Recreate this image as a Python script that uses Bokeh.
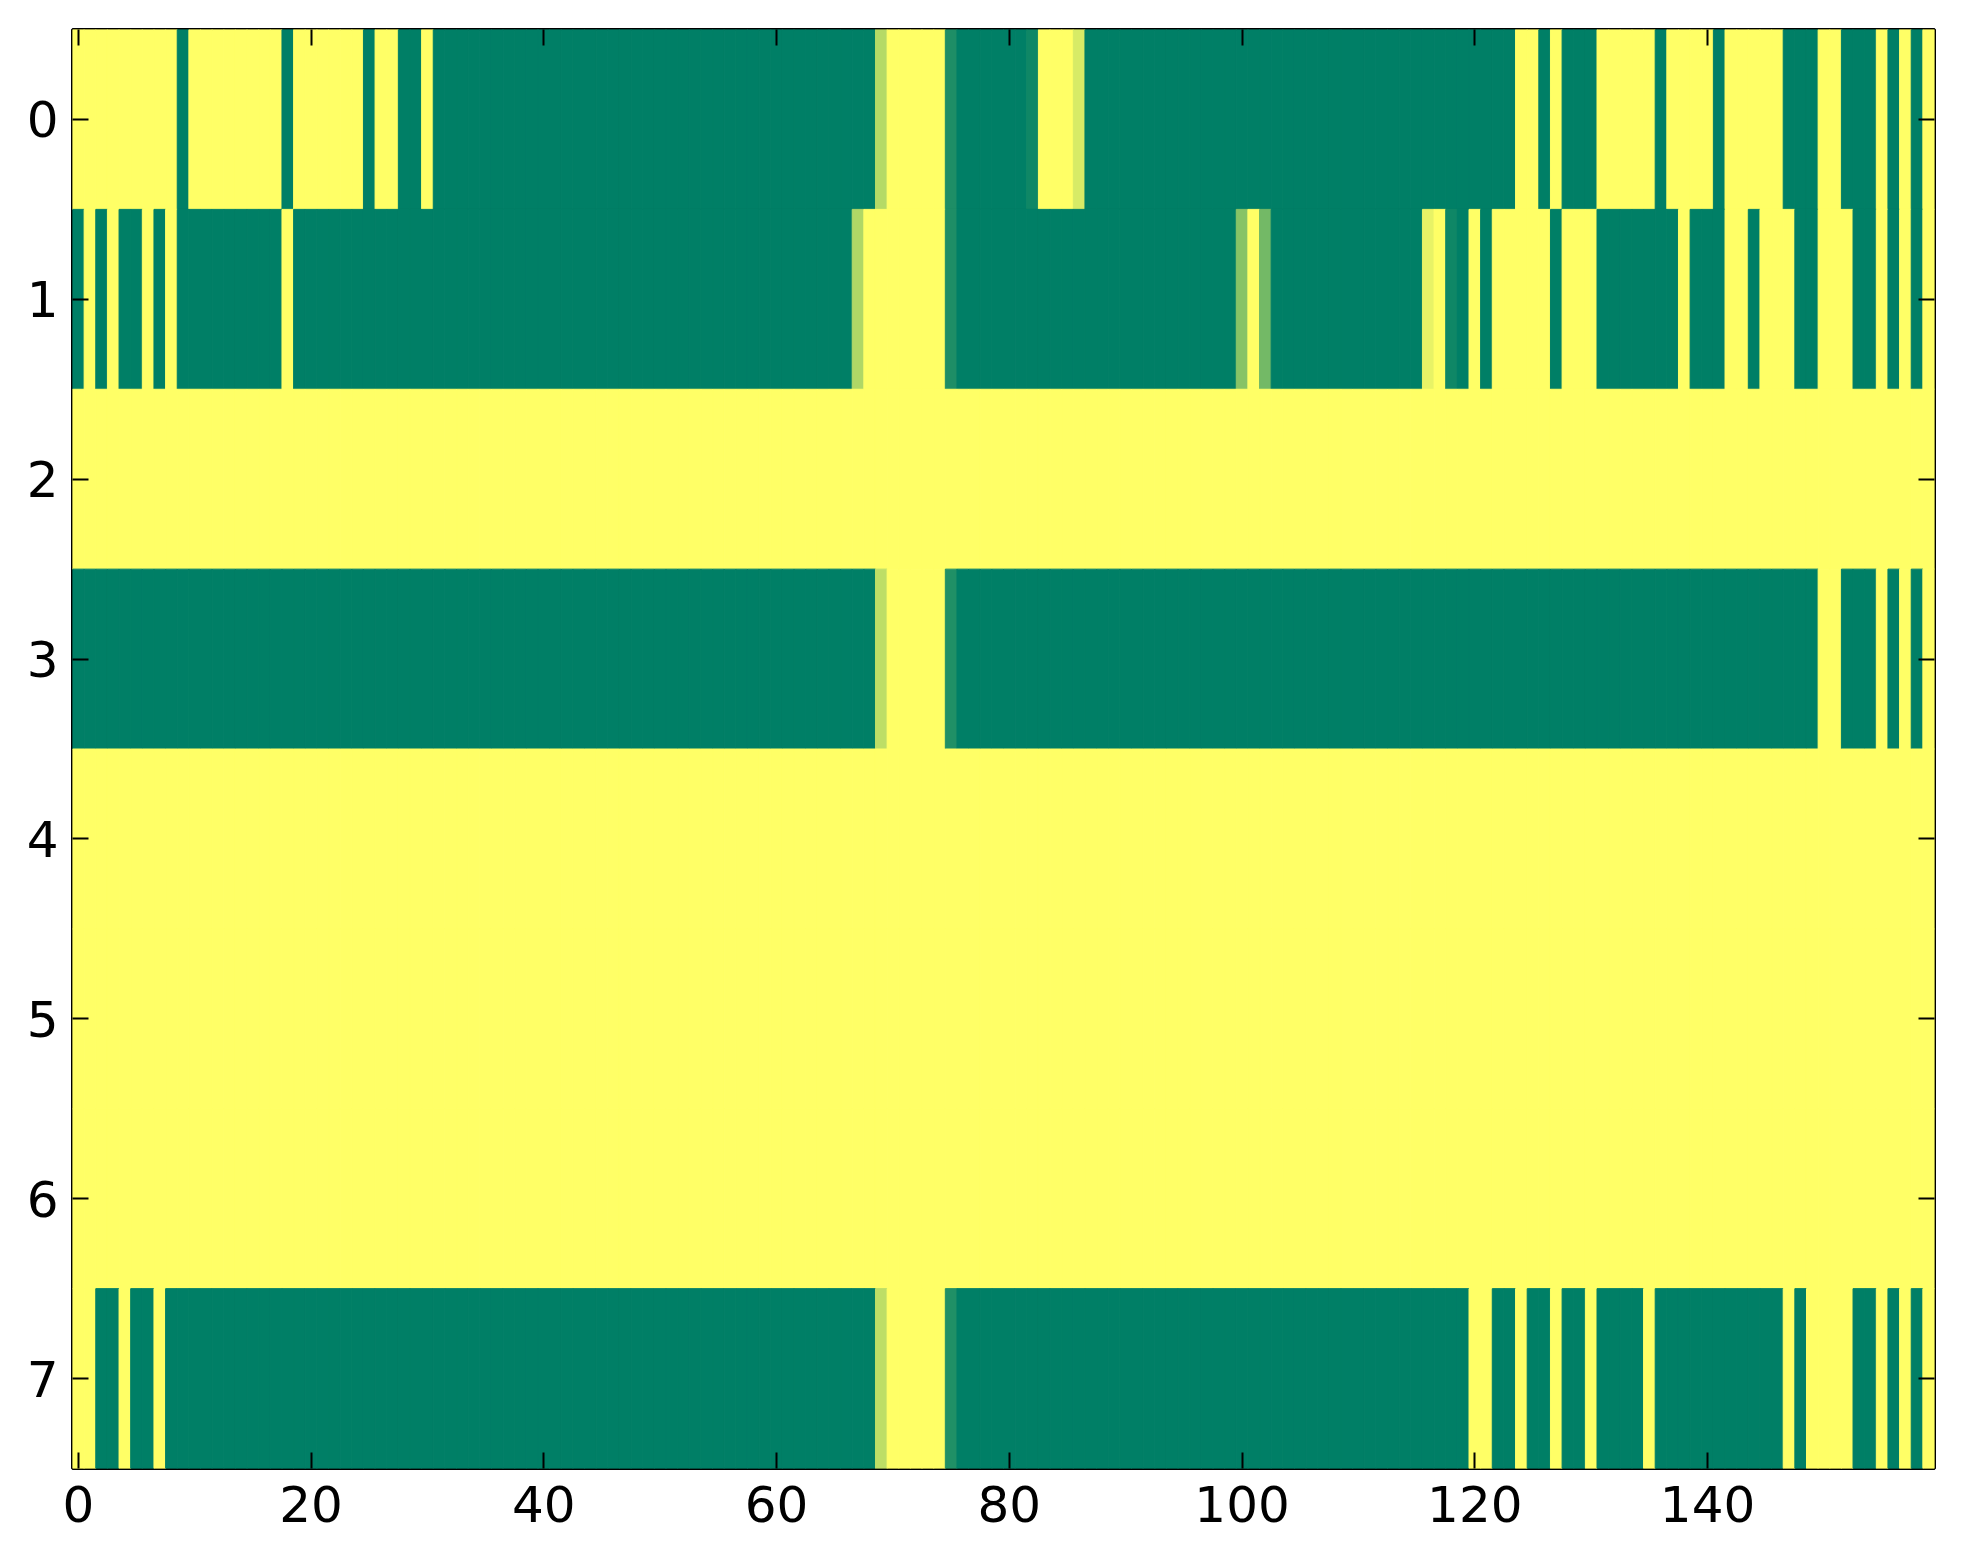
import numpy as np
from bokeh.plotting import figure
from bokeh.models import (LinearColorMapper, Range1d, LinearAxis, FixedTicker,
                          ColumnDataSource)
from bokeh.transform import transform
from bokeh.embed import file_html
from bokeh.resources import INLINE

# ---- data: 8 rows x 160 columns, values in [0, 1] ----
row0 = ([1]*9 + [0] + [1]*8 + [0] + [1]*6 + [0] + [1]*2 + [0]*2 + [1] + [0]*38 +
        [0.71] + [1]*5 + [0.12] + [0]*6 + [0.06] + [1]*3 + [0.84] + [0]*37 +
        [1]*2 + [0] + [1] + [0]*3 + [1]*5 + [0] + [1]*4 + [0] + [1]*5 + [0]*3 +
        [1]*2 + [0]*3 + [1] + [0] + [1] + [0] + [1])
row1 = ([0, 1, 0, 1, 0, 0, 1, 0, 1] + [0]*9 + [1] + [0]*48 + [0.69] + [1]*7 +
        [0.12] + [0]*24 + [0.53, 1, 0.45] + [0]*13 + [0.91, 1, 0.06, 0, 1, 0] +
        [1]*5 + [0] + [1]*3 + [0]*7 + [1] + [0]*3 + [1]*2 + [0] + [1]*3 +
        [0]*2 + [1]*3 + [0]*2 + [1] + [0] + [1] + [0] + [1])
row2 = [1]*160
row3 = ([0]*69 + [0.74] + [1]*5 + [0.13] + [0]*74 + [1]*2 + [0]*3 +
        [1] + [0] + [1] + [0] + [1])
row4 = [1]*160
row5 = [1]*160
row6 = [1]*160
row7 = ([1, 1, 0, 0, 1, 0, 0, 1] + [0]*61 + [0.74] + [1]*5 + [0.13] + [0]*44 +
        [1]*2 + [0]*2 + [1] + [0]*2 + [1] + [0]*2 + [1] + [0]*4 + [1] +
        [0]*11 + [1] + [0] + [1]*4 + [0]*2 + [1] + [0] + [1] + [0] + [1])

rows = [row0, row1, row2, row3, row4, row5, row6, row7]
x_ticks = [0, 20, 40, 60, 80, 100, 120, 140]
y_ticks = [0, 1, 2, 3, 4, 5, 6, 7]

# matplotlib "summer" colormap
summer = ["#%02x%02x%02x" % (int(255 * t), int(255 * (0.5 + 0.5 * t)), int(255 * 0.4))
          for t in np.linspace(0, 1, 256)]
mapper = LinearColorMapper(palette=summer, low=0, high=1)

xs, ys, vs = [], [], []
for r, row in enumerate(rows):
    for c, v in enumerate(row):
        xs.append(c)
        ys.append(r)
        vs.append(float(v))
src = ColumnDataSource(dict(x=xs, y=ys, v=vs))

p = figure(frame_width=1862, frame_height=1439,
           x_range=Range1d(-0.5, 159.5), y_range=Range1d(7.5, -0.5),
           output_backend="svg", toolbar_location=None,
           min_border_left=72, min_border_top=29, min_border_right=13,
           min_border_bottom=80)

p.rect(x="x", y="y", width=1, height=1, source=src,
       fill_color=transform("v", mapper), line_color=transform("v", mapper),
       line_width=1)

p.grid.visible = False
p.background_fill_color = "white"
p.border_fill_color = "white"
p.outline_line_color = "black"
p.outline_line_width = 3

FONT = "DejaVu Sans"

def style_axis(ax, labels=True):
    ax.axis_line_color = None
    ax.major_tick_in = 16
    ax.major_tick_out = 0
    ax.major_tick_line_width = 2
    ax.major_tick_line_color = "black"
    ax.minor_tick_line_color = None
    ax.major_label_text_font = FONT
    ax.major_label_text_color = "black"
    if labels:
        ax.major_label_text_font_size = "50px"
    else:
        ax.major_label_text_font_size = "0px"
        ax.major_label_standoff = 0

p.xaxis.ticker = FixedTicker(ticks=x_ticks)
p.yaxis.ticker = FixedTicker(ticks=y_ticks)
style_axis(p.xaxis[0])
style_axis(p.yaxis[0])
p.xaxis.major_label_standoff = 17
p.yaxis.major_label_standoff = 14

top_axis = LinearAxis(ticker=FixedTicker(ticks=x_ticks),
                      major_label_overrides={t: "" for t in x_ticks})
right_axis = LinearAxis(ticker=FixedTicker(ticks=y_ticks),
                        major_label_overrides={t: "" for t in y_ticks})
style_axis(top_axis, labels=False)
style_axis(right_axis, labels=False)
p.add_layout(top_axis, "above")
p.add_layout(right_axis, "right")

open("out.html", "w").write(file_html(p, INLINE))
